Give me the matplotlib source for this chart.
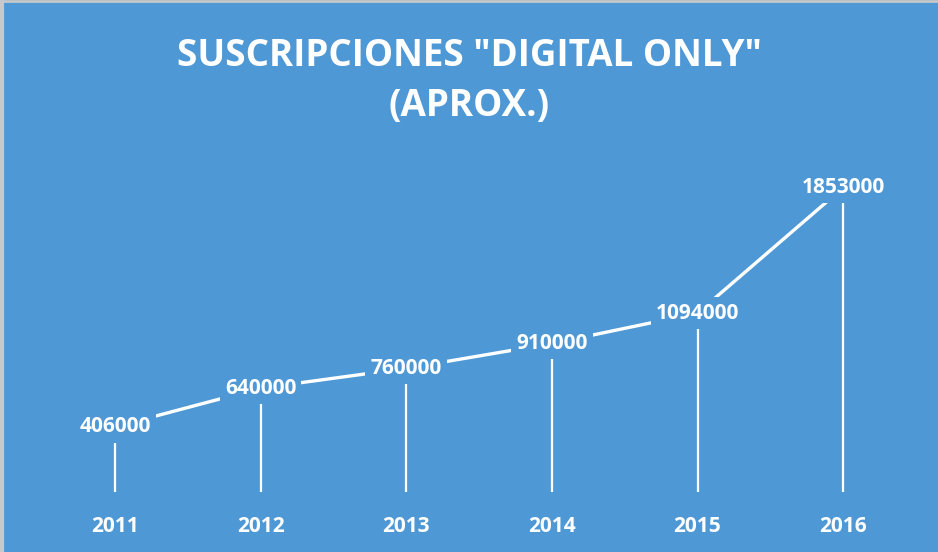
import matplotlib.pyplot as plt

# Datos
years = ["2011", "2012", "2013", "2014", "2015", "2016"]
subs = [406000, 640000, 760000, 910000, 1094000, 1853000]

bg = "#4F98D6"
plt.rcParams['font.family'] = ['Open Sans', 'DejaVu Sans']

fig = plt.figure(figsize=(9.38, 5.52), dpi=100, facecolor=bg)
ax = fig.add_axes([42 / 938, 58 / 552, 874 / 938, 329 / 552])
ax.set_facecolor(bg)

x = list(range(len(years)))

# Linea principal
ax.plot(x, subs, color="white", linewidth=2.4, solid_capstyle="butt", zorder=2)

# Lineas verticales hasta la base
ax.vlines(x, 15000, subs, color="white", linewidth=1.6, zorder=1)

# Etiquetas de datos
for xi, v in zip(x, subs):
    ax.text(xi, v, str(v), color="white", fontsize=15, fontweight="bold",
            ha="center", va="center", zorder=3,
            bbox=dict(boxstyle="square,pad=0.25", facecolor=bg, edgecolor="none"))

ax.set_xlim(-0.5, len(years) - 0.5)
ax.set_ylim(0, 1990000)
ax.set_xticks(x)
ax.set_xticklabels(years, color="white", fontsize=15, fontweight="bold")
ax.tick_params(axis="x", length=0, pad=16)
ax.set_yticks([])
for s in ax.spines.values():
    s.set_visible(False)

fig.text(0.5, 1 - 56 / 552, 'SUSCRIPCIONES "DIGITAL ONLY"', color="white",
         fontsize=26.5, fontweight="bold", ha="center", va="center")
fig.text(0.5, 1 - 106 / 552, '(APROX.)', color="white",
         fontsize=26.5, fontweight="bold", ha="center", va="center")

# borde gris arriba e izquierda
fig.add_artist(plt.Line2D([0, 1], [0.998, 0.998], color="#c8c8c8", linewidth=2, transform=fig.transFigure))
fig.add_artist(plt.Line2D([0.002, 0.002], [0, 1], color="#c8c8c8", linewidth=3, transform=fig.transFigure))

fig.savefig("out.png", dpi=100, facecolor=bg)
